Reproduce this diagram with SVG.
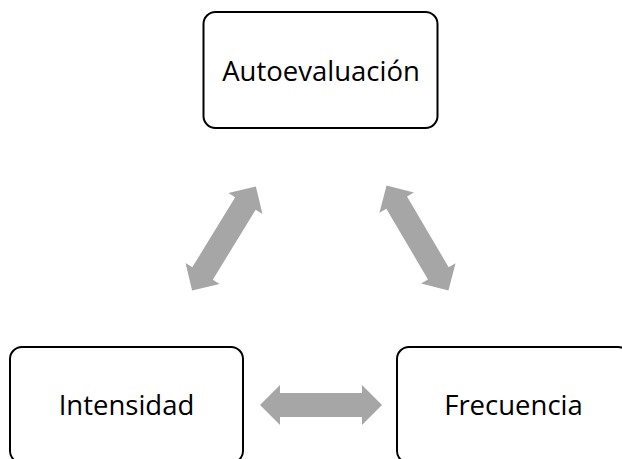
<svg xmlns="http://www.w3.org/2000/svg" width="622" height="459" viewBox="0 0 622 459">
<style>
.box{fill:#ffffff;stroke:#000000;stroke-width:2}
.lbl{font-family:"Open Sans","Noto Sans","Liberation Sans",sans-serif;font-size:27.5px;fill:#000000;text-anchor:middle}
.arr{fill:#A6A6A6;stroke:none}
</style>
<defs>
<path id="dbl" d="M -61 0 L -41 -20 L -41 -12 L 41 -12 L 41 -20 L 61 0 L 41 20 L 41 12 L -41 12 L -41 20 Z"/>
</defs>
<rect width="622" height="459" fill="#ffffff"/>
<g id="connectors">
<use href="#dbl" class="arr" transform="translate(224,238.5) rotate(-58.5)"/>
<use href="#dbl" class="arr" transform="translate(417.5,238) rotate(59.5)"/>
<use href="#dbl" class="arr" transform="translate(321,405)"/>
</g>
<g id="autoevaluacion">
<rect class="box" x="203.5" y="12" width="234" height="116" rx="12" ry="12"/>
<text class="lbl" x="321" y="80.5">Autoevaluación</text>
</g>
<g id="intensidad">
<rect class="box" x="10" y="347" width="233" height="116" rx="12" ry="12"/>
<text class="lbl" x="126.5" y="415">Intensidad</text>
</g>
<g id="frecuencia">
<rect class="box" x="397" y="347" width="233" height="116" rx="12" ry="12"/>
<text class="lbl" x="513.5" y="415">Frecuencia</text>
</g>
</svg>
